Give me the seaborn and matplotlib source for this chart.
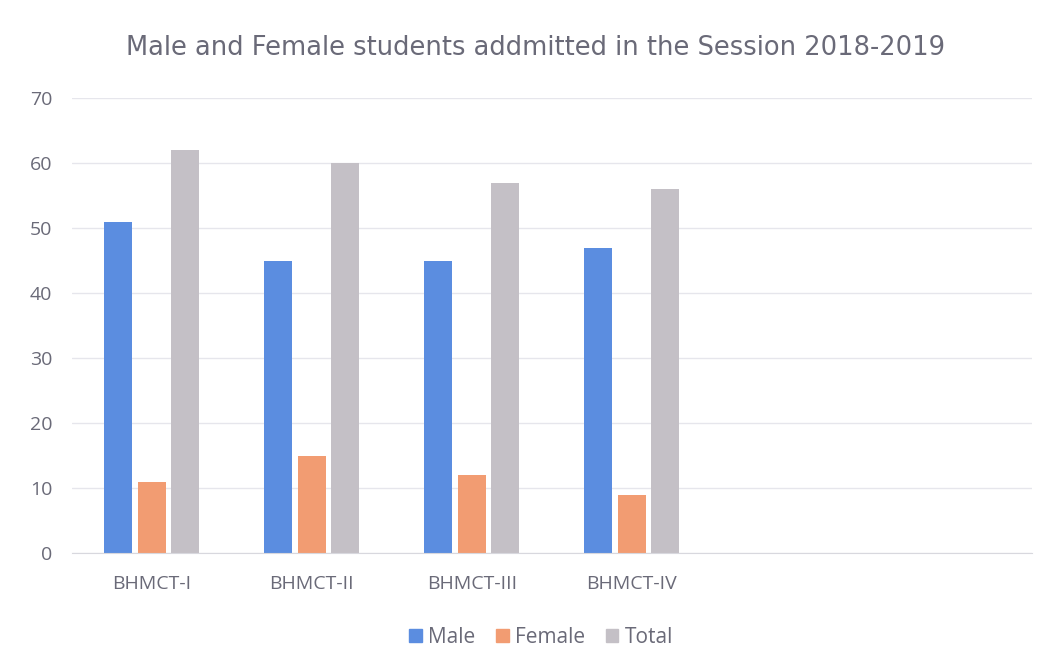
import pandas as pd
import matplotlib.pyplot as plt
import seaborn as sns

# Dades del grafic
courses = ['BHMCT-I', 'BHMCT-II', 'BHMCT-III', 'BHMCT-IV']
male = [51, 45, 45, 47]
female = [11, 15, 12, 9]
total = [62, 60, 57, 56]
series = ['Male', 'Female', 'Total']
yticks = [0, 10, 20, 30, 40, 50, 60, 70]

df = pd.DataFrame({'course': courses, 'Male': male, 'Female': female, 'Total': total})
df = df.melt(id_vars='course', value_vars=series, var_name='series', value_name='value')

colors = {'Male': '#5b8de0', 'Female': '#f29c72', 'Total': '#c4c0c6'}
text_color = '#6a6a78'

sns.set_style('white')
plt.rcParams['font.family'] = ['Open Sans', 'DejaVu Sans']

fig = plt.figure(figsize=(10.55, 6.72), dpi=100)
ax = fig.add_axes([0.068, 0.177, 0.91, 0.677])

sns.barplot(data=df, x='course', y='value', hue='series', hue_order=series,
            palette=colors, width=0.625, gap=0.16, ax=ax, edgecolor='none',
            saturation=1)

ax.set_xlim(-0.5, 5.5)
ax.set_ylim(0, 70)
ax.set_yticks(yticks)
ax.set_xlabel('')
ax.set_ylabel('')
ax.grid(axis='y', color='#e6e6ec', linewidth=1)
ax.set_axisbelow(True)
for s in ['top', 'right', 'left']:
    ax.spines[s].set_visible(False)
ax.spines['bottom'].set_color('#d8d8de')
ax.tick_params(axis='both', length=0, colors=text_color)
ax.tick_params(axis='x', labelsize=14, pad=16)
ax.tick_params(axis='y', labelsize=14, pad=14)

fig.text(0.508, 0.928, 'Male and Female students addmitted in the Session 2018-2019',
         ha='center', va='center', fontsize=18.5, color=text_color,
         family=['DejaVu Sans'])

ax.legend_.remove()
handles = [plt.Rectangle((0, 0), 1, 1, color=colors[s]) for s in series]
fig.legend(handles, series, loc='center', bbox_to_anchor=(0.513, 0.051), ncol=3,
           frameon=False, fontsize=15, labelcolor=text_color,
           handlelength=0.6, handleheight=0.6, handletextpad=0.3, columnspacing=1.0)

plt.savefig('out.png', dpi=100)
plt.close()
